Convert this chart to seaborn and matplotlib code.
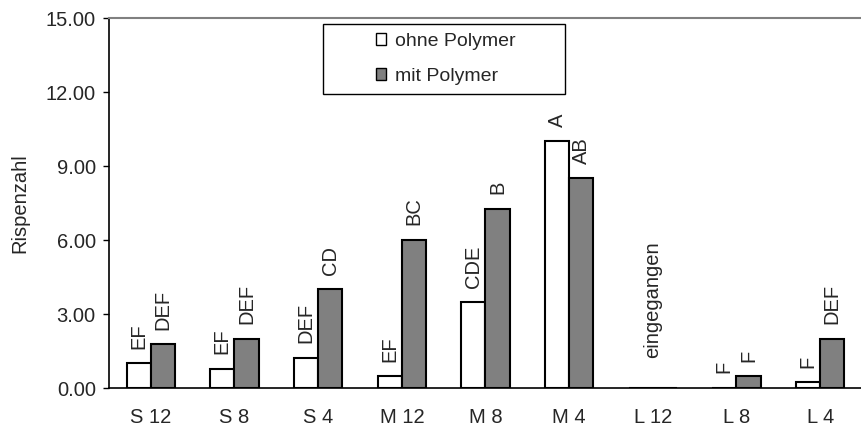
import matplotlib
matplotlib.use("Agg")
import matplotlib.pyplot as plt
import seaborn as sns
import pandas as pd
from matplotlib.patches import Rectangle

categories = ["S 12", "S 8", "S 4", "M 12", "M 8", "M 4", "L 12", "L 8", "L 4"]
series_names = ["ohne Polymer", "mit Polymer"]
ohne_values = [1.0, 0.77, 1.22, 0.47, 3.48, 10.0, 0.0, 0.0, 0.23]
mit_values = [1.77, 2.0, 4.0, 6.0, 7.26, 8.5, 0.0, 0.47, 2.0]
ohne_letters = ["EF", "EF", "DEF", "EF", "CDE", "A", "", "F", "F"]
mit_letters = ["DEF", "DEF", "CD", "BC", "B", "AB", "", "F", "DEF"]
dead_label = "eingegangen"
dead_category = "L 12"
y_ticks = [0, 3, 6, 9, 12, 15]
y_label = "Rispenzahl"

df = pd.DataFrame({
    "cat": categories * 2,
    "val": ohne_values + mit_values,
    "grp": [series_names[0]] * len(categories) + [series_names[1]] * len(categories),
})

sns.set_style("white")
plt.rcParams["font.family"] = ["Liberation Sans", "DejaVu Sans"]
FS = 14.5

fig = plt.figure(figsize=(8.62, 4.28), dpi=100)
ax = fig.add_axes([109 / 862, 1 - 388 / 428, 753 / 862, 370 / 428])

sns.barplot(data=df, x="cat", y="val", hue="grp", order=categories,
            hue_order=series_names, palette=["white", "#808080"],
            edgecolor="black", linewidth=1.5, width=0.58, ax=ax,
            legend=True, saturation=1, errorbar=None)

letters = [ohne_letters, mit_letters]
for ci, cont in enumerate(ax.containers):
    for bi, bar in enumerate(cont):
        lab = letters[ci][bi]
        if not lab:
            continue
        ax.annotate(lab, (bar.get_x() + bar.get_width() / 2, bar.get_height()),
                    xytext=(0, 10.5), textcoords="offset points",
                    rotation=90, ha="center", va="bottom", fontsize=FS)

ax.text(categories.index(dead_category), 1.22, dead_label, rotation=90,
        ha="center", va="bottom", fontsize=FS)

ax.set_xlim(-0.5, len(categories) - 0.5)
ax.set_ylim(0, 15)
ax.set_yticks(y_ticks)
ax.set_yticklabels([f"{v:.2f}" for v in y_ticks], fontsize=FS)
ax.set_xticks(range(len(categories)))
ax.set_xticklabels(categories, fontsize=FS)
ax.set_xticks([i - 0.5 for i in range(len(categories) + 1)], minor=True)
ax.tick_params(axis="x", which="major", length=0, pad=14.5)
ax.tick_params(axis="x", which="minor", length=4, width=1, color="black", direction="out")
ax.tick_params(axis="y", length=4.5, width=1, color="black", direction="out", pad=5, left=True)
ax.set_xlabel("")
ax.set_ylabel(y_label, fontsize=FS, labelpad=12)

for s in ["left", "bottom"]:
    ax.spines[s].set_color("black")
    ax.spines[s].set_linewidth(1.2)
ax.spines["right"].set_visible(False)
ax.spines["top"].set_color("#808080")
ax.spines["top"].set_linewidth(1.5)

leg = ax.legend(loc="upper left", bbox_to_anchor=(362 / 862, 1 - 19 / 428),
                bbox_transform=fig.transFigure, frameon=False, fontsize=FS - 0.5,
                handlelength=0.55, handleheight=0.55, handletextpad=0.45,
                labelspacing=0.95, borderpad=0.2)
for h in leg.legend_handles:
    h.set_edgecolor("black")
    h.set_linewidth(1.0)

fig.patches.append(Rectangle((323 / 862, 1 - 94 / 428), 242 / 862, 70 / 428,
                             transform=fig.transFigure, fill=False,
                             edgecolor="black", linewidth=1.0))

fig.savefig("out.png", dpi=100)
